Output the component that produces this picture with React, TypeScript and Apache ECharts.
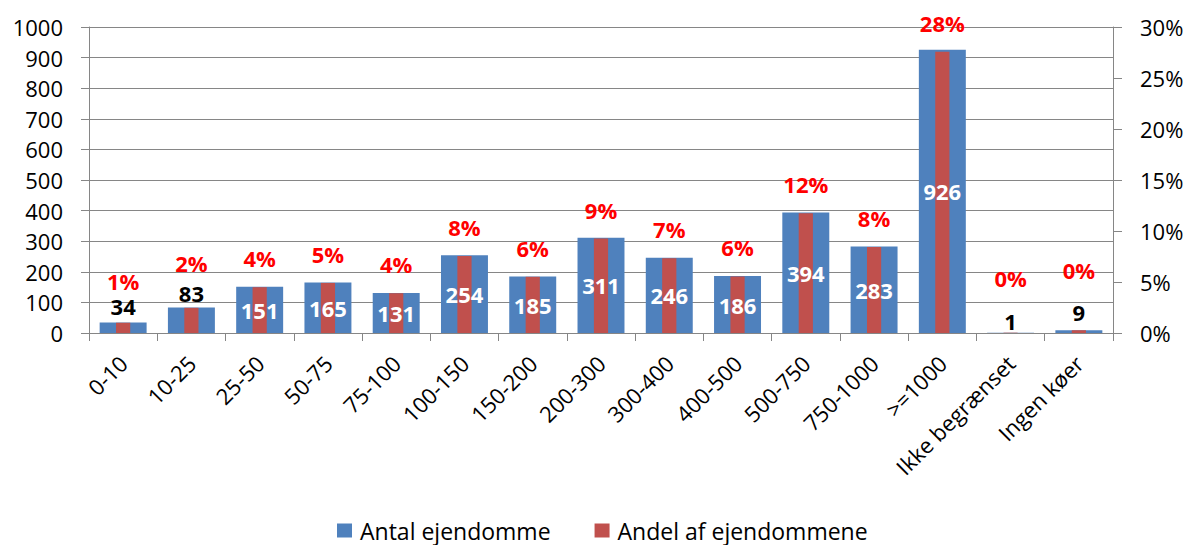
import React, { useEffect, useRef } from "react";
import * as echarts from "echarts";

const categories = [
  "0-10", "10-25", "25-50", "50-75", "75-100", "100-150", "150-200", "200-300",
  "300-400", "400-500", "500-750", "750-1000", ">=1000", "Ikke begrænset", "Ingen køer",
];
const antalEjendomme = [34, 83, 151, 165, 131, 254, 185, 311, 246, 186, 394, 283, 926, 1, 9];
const andelPct = [1.01, 2.47, 4.49, 4.91, 3.9, 7.56, 5.51, 9.26, 7.32, 5.54, 11.73, 8.43, 27.57, 0.03, 0.27];
const leftTicks = { min: 0, max: 1000, interval: 100 };
const rightTicks = { min: 0, max: 30, interval: 5 };
const seriesNames = ["Antal ejendomme", "Andel af ejendommene"];

// label placement (style, not data)
const countOutside: Record<number, number> = { 0: 6, 1: 4, 13: 1, 14: 7 };
const pctDistance: Record<number, number> = { 0: 31, 1: 34, 13: 44, 14: 49 };

const FONT = "Open Sans";
const AXIS_COLOR = "#868686";

export default function App() {
  const ref = useRef<HTMLDivElement>(null);
  useEffect(() => {
    if (!ref.current) return;
    const chart = echarts.init(ref.current, undefined, { renderer: "svg" });
    const countData = antalEjendomme.map((v, i) => {
      if (countOutside[i] !== undefined) {
        return {
          value: v,
          label: { position: "top", color: "#000", distance: countOutside[i] },
        };
      }
      return { value: v };
    });
    const pctData = andelPct.map((v, i) => ({
      value: v,
      label: { distance: pctDistance[i] !== undefined ? pctDistance[i] : 18 },
    }));
    chart.setOption({
      animation: false,
      textStyle: { fontFamily: FONT },
      grid: { left: 89, right: 75, top: 27, bottom: 212, containLabel: false, outerBoundsMode: "none" },
      legend: {
        data: seriesNames,
        left: 332,
        top: 514,
        itemWidth: 15,
        itemHeight: 14,
        itemGap: 44,
        icon: "rect",
        textStyle: { fontFamily: FONT, fontSize: 23, color: "#000", padding: [0, 0, 0, 3] },
      },
      xAxis: [
        {
          type: "category",
          data: categories,
          axisLine: { lineStyle: { color: AXIS_COLOR, width: 1 } },
          axisTick: { show: true, length: 8, lineStyle: { color: AXIS_COLOR } },
          axisLabel: {
            interval: 0,
            rotate: 45,
            align: "right",
            verticalAlign: "top",
            lineHeight: 30,
            margin: 5,
            padding: [0, 15, 0, 0],
            fontFamily: FONT,
            fontSize: 22,
            color: "#000",
          },
        },
        { type: "category", data: categories, show: false },
      ],
      yAxis: [
        {
          type: "value",
          ...leftTicks,
          axisLine: { show: true, lineStyle: { color: AXIS_COLOR } },
          axisTick: { show: true, length: 8, lineStyle: { color: AXIS_COLOR } },
          splitLine: { show: true, lineStyle: { color: AXIS_COLOR, width: 1 } },
          axisLabel: {
            margin: 26,
            fontFamily: FONT,
            fontSize: 22,
            color: "#000",
            formatter: (v: number) => String(v),
          },
        },
        {
          type: "value",
          position: "right",
          ...rightTicks,
          axisLine: { show: true, lineStyle: { color: AXIS_COLOR } },
          axisTick: { show: true, length: 9, lineStyle: { color: AXIS_COLOR } },
          splitLine: { show: false },
          axisLabel: {
            margin: 27,
            formatter: (v: number) => v + "%",
            fontFamily: FONT,
            fontSize: 22,
            color: "#000",
          },
        },
      ],
      series: [
        {
          name: seriesNames[0],
          type: "bar",
          xAxisIndex: 0,
          yAxisIndex: 0,
          barWidth: "68.8%",
          itemStyle: { color: "#4F81BD" },
          label: {
            show: true,
            position: "inside",
            color: "#fff",
            fontWeight: "bold",
            fontSize: 22,
            fontFamily: FONT,
          },
          data: countData,
        },
        {
          name: seriesNames[1],
          type: "bar",
          xAxisIndex: 1,
          yAxisIndex: 1,
          barWidth: "20.8%",
          itemStyle: { color: "#C0504D" },
          label: {
            show: true,
            position: "top",
            color: "#FF0000",
            fontWeight: "bold",
            fontSize: 22,
            fontFamily: FONT,
            formatter: (p: any) => Math.round(p.value) + "%",
          },
          data: pctData,
        },
      ],
    });
    return () => chart.dispose();
  }, []);
  return (
    <div
      ref={ref}
      style={{ position: "fixed", left: 0, top: 0, width: 1188, height: 545, background: "#fff" }}
    />
  );
}
